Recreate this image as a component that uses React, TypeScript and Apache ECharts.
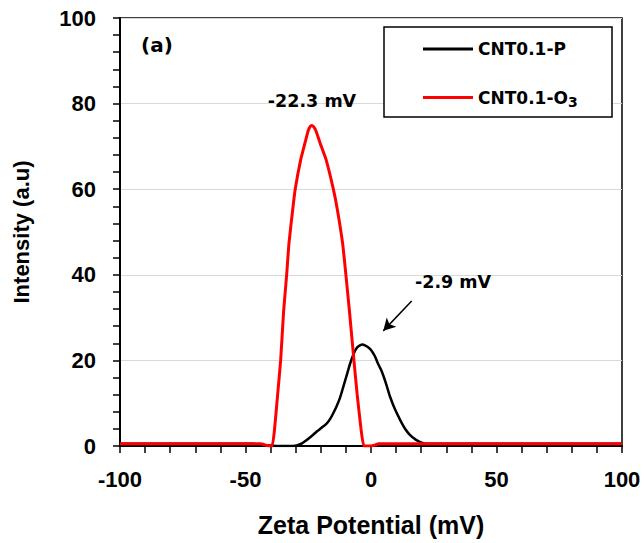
import React, { useEffect, useRef } from "react";
import * as echarts from "echarts";

// Zeta potential (mV) and intensity (a.u)
const zetaP = [-100, -47, -42, -35, -31, -29.6, -27.5, -25.6, -23.5, -21.6, -19.6, -17.6, -16.2, -15, -13.7, -12.4, -11.4, -10.4, -9.4, -8.4, -7.4, -6.4, -5.4, -4.4, -3.4, -2.4, -1, 0.3, 1.6, 2.9, 4, 5, 6.3, 7.6, 9.6, 11.6, 13.5, 15.5, 17.8, 20.2, 23, 100];
const intensityP = [0.5, 0.5, 0.2, 0, 0, 0.1, 0.6, 1.4, 2.4, 3.4, 4.3, 5.3, 6.4, 7.7, 9.3, 11.2, 13.1, 15.1, 17.1, 19.1, 20.8, 22.2, 23.1, 23.5, 23.7, 23.5, 23, 22.2, 20.9, 19.1, 17.8, 16.3, 14, 11.5, 8.5, 6.1, 4.1, 2.6, 1.5, 0.8, 0.5, 0.5];

const zetaO3 = [-100, -44, -43, -41, -39.4, -38.4, -37.2, -36, -34.8, -33.6, -32.7, -31.2, -30.2, -28, -26.3, -25, -24.2, -23.6, -22.9, -21.9, -20.3, -17.9, -15, -13.4, -11.3, -10, -8.6, -6.8, -5.5, -4, -2.8, 0, 1.5, 3, 100];
const intensityO3 = [0.5, 0.5, 0.4, 0.05, 0, 4.1, 12, 20, 31.6, 40, 47.3, 55.2, 60, 66.9, 70.8, 73.7, 74.7, 74.9, 74.6, 73.6, 70.8, 66.9, 60, 55.2, 47.3, 40, 31.6, 20, 12, 4.1, 0, 0, 0.2, 0.5, 0.5];

const seriesNames = ["CNT0.1-P", "CNT0.1-O3"];
const xTicks = { min: -100, max: 100, interval: 50 };
const yTicks = { min: 0, max: 100, interval: 20 };
const peakLabels = ["-22.3 mV", "-2.9 mV"];
// arrow from label to the CNT0.1-P peak (data coordinates)
const arrowFrom = [16.2, 33.9];
const arrowTo = [4.9, 26.9];

const axisFont = "'Liberation Sans', Arial, sans-serif";
const inFont = "'DejaVu Sans', sans-serif";

export default function App() {
  const ref = useRef<HTMLDivElement>(null);
  useEffect(() => {
    document.body.style.margin = "0";
    const chart = echarts.init(ref.current!, null, { renderer: "svg" });
    const dataP = zetaP.map((x, i) => [x, intensityP[i]]);
    const dataO3 = zetaO3.map((x, i) => [x, intensityO3[i]]);
    chart.setOption({
      animation: false,
      backgroundColor: "#fff",
      grid: {
        left: 120,
        right: 22,
        top: 18,
        bottom: 97,
        show: true,
        borderColor: "#000",
        borderWidth: 1.5,
        backgroundColor: "transparent",
      },
      xAxis: {
        type: "value",
        min: xTicks.min,
        max: xTicks.max,
        interval: xTicks.interval,
        name: "Zeta Potential (mV)",
        nameLocation: "middle",
        nameGap: 66,
        nameTextStyle: { fontFamily: axisFont, fontWeight: "bold", fontSize: 25, color: "#000" },
        axisLine: { show: true, onZero: false, lineStyle: { color: "#000", width: 2 } },
        axisTick: { show: true, inside: false, length: 7, lineStyle: { color: "#000", width: 1.5 } },
        minorTick: { show: true, splitNumber: 5, length: 7, lineStyle: { color: "#000", width: 1.5 } },
        axisLabel: { margin: 22, fontFamily: axisFont, fontWeight: "bold", fontSize: 22, color: "#000" },
        splitLine: { show: false },
      },
      yAxis: {
        type: "value",
        min: yTicks.min,
        max: yTicks.max,
        interval: yTicks.interval,
        name: "Intensity (a.u)",
        nameLocation: "middle",
        nameGap: 88,
        nameRotate: 90,
        nameTextStyle: { fontFamily: axisFont, fontWeight: "bold", fontSize: 22, color: "#000" },
        axisLine: { show: true, onZero: false, lineStyle: { color: "#000", width: 2 } },
        axisTick: { show: true, inside: false, length: 7, lineStyle: { color: "#000", width: 1.5 } },
        minorTick: { show: true, splitNumber: 5, length: 7, lineStyle: { color: "#000", width: 1.5 } },
        axisLabel: { margin: 24, fontFamily: axisFont, fontWeight: "bold", fontSize: 22, color: "#000" },
        splitLine: { show: true, lineStyle: { color: "#d9d9d9", width: 1.2 } },
      },
      legend: {
        data: seriesNames,
        orient: "vertical",
        left: 423,
        top: 39,
        padding: 0,
        itemGap: 27,
        itemWidth: 50,
        itemHeight: 3,
        icon: "rect",
        selectedMode: false,
        formatter: (name: string) => (name === "CNT0.1-O3" ? "CNT0.1-O{sub|3}" : name),
        textStyle: {
          fontFamily: inFont,
          fontWeight: "bold",
          fontSize: 17,
          lineHeight: 20,
          color: "#000",
          rich: {
            sub: { fontFamily: inFont, fontWeight: "bold", fontSize: 14, lineHeight: 20, padding: [9, 0, 0, 0], color: "#000" },
          },
        },
      },
      graphic: [
        {
          type: "rect",
          z: 3,
          shape: { x: 384, y: 27, width: 228, height: 90 },
          style: { fill: "#fff", stroke: "#000", lineWidth: 1.5 },
        },
        {
          type: "text",
          z: 5,
          x: 141,
          y: 45,
          style: { text: "(a)", fontFamily: inFont, fontWeight: "bold", fontSize: 20, fill: "#000", align: "left", verticalAlign: "middle" },
        },
        {
          type: "text",
          z: 5,
          x: 312,
          y: 101,
          style: { text: peakLabels[0], fontFamily: inFont, fontWeight: "bold", fontSize: 17.5, fill: "#000", align: "center", verticalAlign: "middle" },
        },
        {
          type: "text",
          z: 5,
          x: 415,
          y: 282,
          style: { text: peakLabels[1], fontFamily: inFont, fontWeight: "bold", fontSize: 17.5, fill: "#000", align: "left", verticalAlign: "middle" },
        },
      ],
      series: [
        {
          name: seriesNames[0],
          type: "line",
          data: dataP,
          smooth: 0.3,
          showSymbol: false,
          symbol: "none",
          color: "#000",
          lineStyle: { color: "#000", width: 2.5 },
          z: 3,
          markLine: {
            silent: true,
            symbol: ["none", "arrow"],
            symbolSize: [10, 12],
            label: { show: false },
            lineStyle: { color: "#000", width: 1.5, type: "solid" },
            emphasis: { disabled: true },
            data: [[{ coord: arrowFrom }, { coord: arrowTo }]],
          },
        },
        {
          name: seriesNames[1],
          type: "line",
          data: dataO3,
          smooth: 0.15,
          showSymbol: false,
          symbol: "none",
          color: "#ff0000",
          lineStyle: { color: "#ff0000", width: 3 },
          z: 4,
        },
      ],
    });
    return () => chart.dispose();
  }, []);
  return <div ref={ref} style={{ width: 644, height: 543 }} />;
}
